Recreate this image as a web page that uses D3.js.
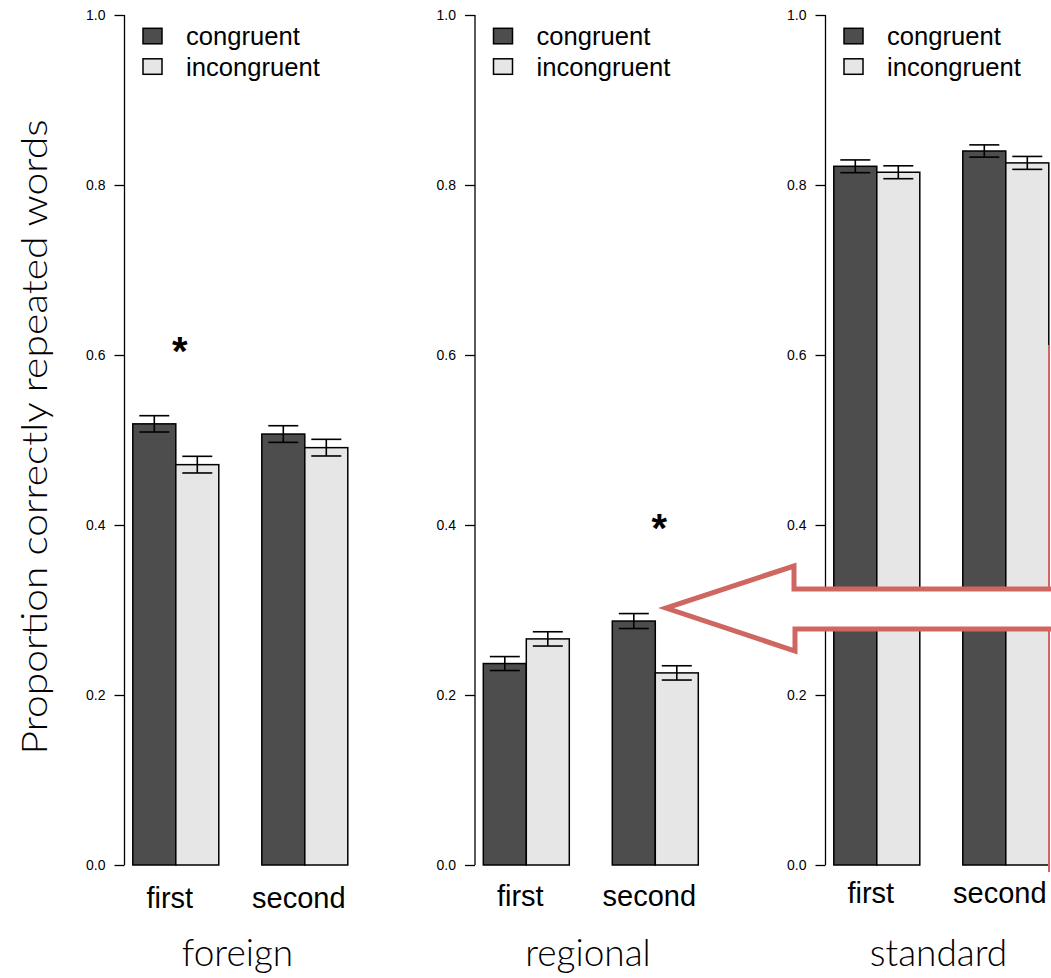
<!DOCTYPE html>
<html>
<head>
<meta charset="utf-8">
<script src="https://cdn.jsdelivr.net/npm/d3@7"></script>
<style>
  body { margin: 0; background: #fff; }
  svg { display: block; }
  .sans { font-family: "Liberation Sans", Arial, Helvetica, sans-serif; }
  .gill { font-family: Lato, "Open Sans", sans-serif; font-weight: 300; }
</style>
</head>
<body>
<div id="chart"></div>
<script>
// accent groups, repetition position, prime condition
const panels = ["foreign", "regional", "standard"];
const positions = ["first", "second"];
const conditions = ["congruent", "incongruent"];

// means per panel: [first, second]
const congruentMean   = [[0.519, 0.507], [0.237, 0.287], [0.822, 0.840]];
const incongruentMean = [[0.471, 0.491], [0.266, 0.226], [0.815, 0.826]];
// standard errors
const congruentSE   = [[0.0096, 0.0098], [0.0082, 0.0088], [0.0075, 0.0072]];
const incongruentSE = [[0.0098, 0.0098], [0.0084, 0.0084], [0.0076, 0.0076]];

const yTicks = [0, 0.2, 0.4, 0.6, 0.8, 1.0];
const starred = [["foreign", "first"], ["regional", "second"]];

const width = 1051, height = 978;
const fills = { congruent: "#4d4d4d", incongruent: "#e6e6e6" };

const svg = d3.select("#chart")
    .append("svg")
    .attr("width", width)
    .attr("height", height);

const y = d3.scaleLinear().domain([0, 1]).range([865, 15]);

const panelX = d3.scaleBand()
    .domain(panels)
    .range([124.5, 124.5 + 3 * 350.5]);

panels.forEach((panel, pi) => {
    const ax = panelX(panel);
    const g = svg.append("g");

    const group = d3.scaleBand()
        .domain(positions)
        .range([ax + 8.3, ax + 8.3 + 215])
        .paddingInner(1 / 3);

    const cond = d3.scaleBand()
        .domain(conditions)
        .range([0, group.bandwidth()]);

    const rows = [];
    positions.forEach((pos, k) => {
        rows.push({ pos, c: "congruent", v: congruentMean[pi][k], se: congruentSE[pi][k] });
        rows.push({ pos, c: "incongruent", v: incongruentMean[pi][k], se: incongruentSE[pi][k] });
    });

    // y axis
    const axis = g.append("g")
        .attr("transform", `translate(${ax},0)`)
        .call(d3.axisLeft(y).tickValues(yTicks).tickFormat(d3.format(".1f")).tickSize(10).tickPadding(9))
        .attr("class", "sans");
    axis.select(".domain").attr("d", `M-0,${y(0)}V${y(1)}`).attr("stroke-width", 1.3);
    axis.selectAll(".tick line").attr("stroke-width", 1.3);
    axis.selectAll(".tick text").attr("font-size", 14).attr("fill", "#000");

    // bars
    g.selectAll("rect.bar")
        .data(rows)
        .enter()
        .append("rect")
        .attr("class", "bar")
        .attr("x", d => group(d.pos) + cond(d.c))
        .attr("width", cond.bandwidth())
        .attr("y", d => y(d.v))
        .attr("height", d => y(0) - y(d.v))
        .attr("fill", d => fills[d.c])
        .attr("stroke", "#000")
        .attr("stroke-width", 1.5);

    // error bars
    const err = g.selectAll("g.err")
        .data(rows)
        .enter()
        .append("g")
        .attr("class", "err")
        .attr("stroke", "#000")
        .attr("stroke-width", 1.6);
    const cx = d => group(d.pos) + cond(d.c) + cond.bandwidth() / 2;
    err.append("line")
        .attr("x1", cx).attr("x2", cx)
        .attr("y1", d => y(d.v + d.se)).attr("y2", d => y(d.v - d.se));
    [1, -1].forEach(s => {
        err.append("line")
            .attr("x1", d => cx(d) - 15).attr("x2", d => cx(d) + 15)
            .attr("y1", d => y(d.v + s * d.se)).attr("y2", d => y(d.v + s * d.se));
    });

    // category labels
    g.selectAll("text.pos")
        .data(positions)
        .enter()
        .append("text")
        .attr("class", "sans")
        .attr("x", d => group(d) + group.bandwidth() / 2 - 6)
        .attr("y", 908 - pi * 2.5)
        .attr("text-anchor", "middle")
        .attr("font-size", 29)
        .text(d => d);

    // panel title
    g.append("text")
        .attr("class", "gill")
        .attr("x", ax + 113)
        .attr("y", 966)
        .attr("text-anchor", "middle")
        .attr("font-size", 37)
        .text(panel);

    // legend
    const leg = g.selectAll("g.leg")
        .data(conditions)
        .enter()
        .append("g")
        .attr("transform", (d, i) => `translate(${ax + 18.5},${28.3 + i * 30.5})`);
    leg.append("rect")
        .attr("width", 19).attr("height", 15.5)
        .attr("fill", d => fills[d])
        .attr("stroke", "#000").attr("stroke-width", 1.5);
    leg.append("text")
        .attr("class", "sans")
        .attr("x", 43).attr("y", 17)
        .attr("font-size", 25.6)
        .text(d => d);

    // significance stars
    starred.filter(s => s[0] === panel).forEach(s => {
        g.append("text")
            .attr("class", "sans")
            .attr("x", group(s[1]) + group.bandwidth() / 2 + 4)
            .attr("y", pi === 0 ? 365 : 542)
            .attr("text-anchor", "middle")
            .attr("font-size", 40)
            .attr("font-weight", "bold")
            .text("*");
    });
});

// y axis title
svg.append("text")
    .attr("class", "gill")
    .attr("transform", "translate(47,437) rotate(-90)")
    .attr("text-anchor", "middle")
    .attr("font-size", 35)
    .attr("textLength", 635)
    .attr("lengthAdjust", "spacingAndGlyphs")
    .text("Proportion correctly repeated words");

// highlight annotation
const red = "#cf6660";
svg.append("line")
    .attr("x1", 1049).attr("x2", 1049)
    .attr("y1", 345).attr("y2", 872)
    .attr("stroke", red).attr("stroke-width", 2);

const arrowPts = [[1060, 589], [794, 589], [794, 566], [666, 608], [795, 651], [795, 629], [1060, 629]];
svg.append("path")
    .attr("d", d3.line()(arrowPts))
    .attr("fill", "#fff")
    .attr("stroke", red)
    .attr("stroke-width", 5)
    .attr("stroke-linejoin", "miter");
</script>
</body>
</html>
